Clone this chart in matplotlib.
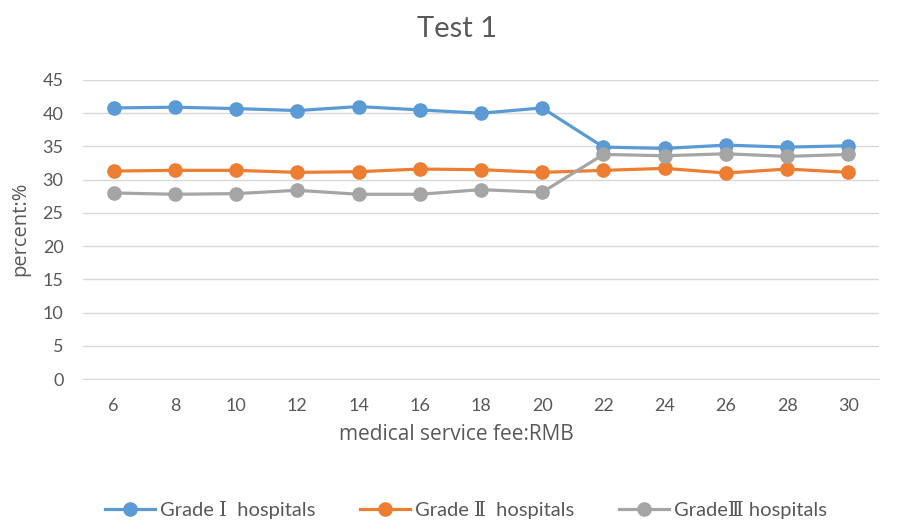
import matplotlib
matplotlib.use("Agg")
import matplotlib.pyplot as plt

plt.rcParams['font.family'] = ['Lato', 'Noto Sans CJK SC', 'DejaVu Sans']

fee = [6, 8, 10, 12, 14, 16, 18, 20, 22, 24, 26, 28, 30]
grade1 = [40.8, 40.9, 40.7, 40.4, 41.0, 40.5, 40.0, 40.8, 34.9, 34.7, 35.2, 34.9, 35.1]
grade2 = [31.3, 31.4, 31.4, 31.1, 31.2, 31.6, 31.5, 31.1, 31.4, 31.7, 31.0, 31.6, 31.1]
grade3 = [28.0, 27.8, 27.9, 28.4, 27.8, 27.8, 28.5, 28.1, 33.8, 33.6, 33.9, 33.5, 33.8]
labels = ['Grade Ⅰ  hospitals', 'Grade Ⅱ  hospitals', 'GradeⅢ hospitals']
colors = ['#5B9BD5', '#ED7D31', '#A5A5A5']
yticks = list(range(0, 50, 5))

txt = '#595959'
W, H = 907, 521
fig = plt.figure(figsize=(W / 100, H / 100), dpi=100)
ax = fig.add_axes([83 / W, 1 - 379 / H, 796 / W, 299 / H])

xs = list(range(len(fee)))
for vals, lab, col in zip([grade1, grade2, grade3], labels, colors):
    ax.plot(xs, vals, color=col, lw=2.3, marker='o', ms=9.5, label=lab)

ax.set_xlim(-0.5, len(fee) - 0.5)
ax.set_ylim(0, 45)
ax.set_yticks(yticks)
ax.set_xticks(xs)
ax.set_xticklabels([str(f) for f in fee])
ax.tick_params(length=0, labelsize=13, colors=txt)
ax.tick_params(axis='x', pad=14)
ax.tick_params(axis='y', pad=14)
ax.grid(axis='y', color='#D9D9D9', lw=1)
ax.set_axisbelow(True)
for s in ['top', 'right', 'left']:
    ax.spines[s].set_visible(False)
ax.spines['bottom'].set_color('#D9D9D9')

lab_font = ['Open Sans', 'DejaVu Sans']
fig.text(456 / W, 1 - 435 / H, 'medical service fee:RMB', fontsize=15, color=txt,
         ha='center', va='center', family=lab_font)
fig.text(20 / W, 1 - 229 / H, 'percent:%', fontsize=14.5, color=txt,
         ha='center', va='center', rotation=90, family=lab_font)
fig.text(457 / W, 1 - 29 / H, 'Test 1', fontsize=21, color=txt,
         ha='center', va='center')

fig.legend(loc='center', bbox_to_anchor=(466 / W, 1 - 510 / H), ncol=3, frameon=False,
           prop={'family': ['Lato', 'DejaVu Serif'], 'size': 14.5}, labelcolor=txt,
           handlelength=2.5, columnspacing=2.2, handletextpad=0.25)

fig.savefig('out.png', dpi=100)
